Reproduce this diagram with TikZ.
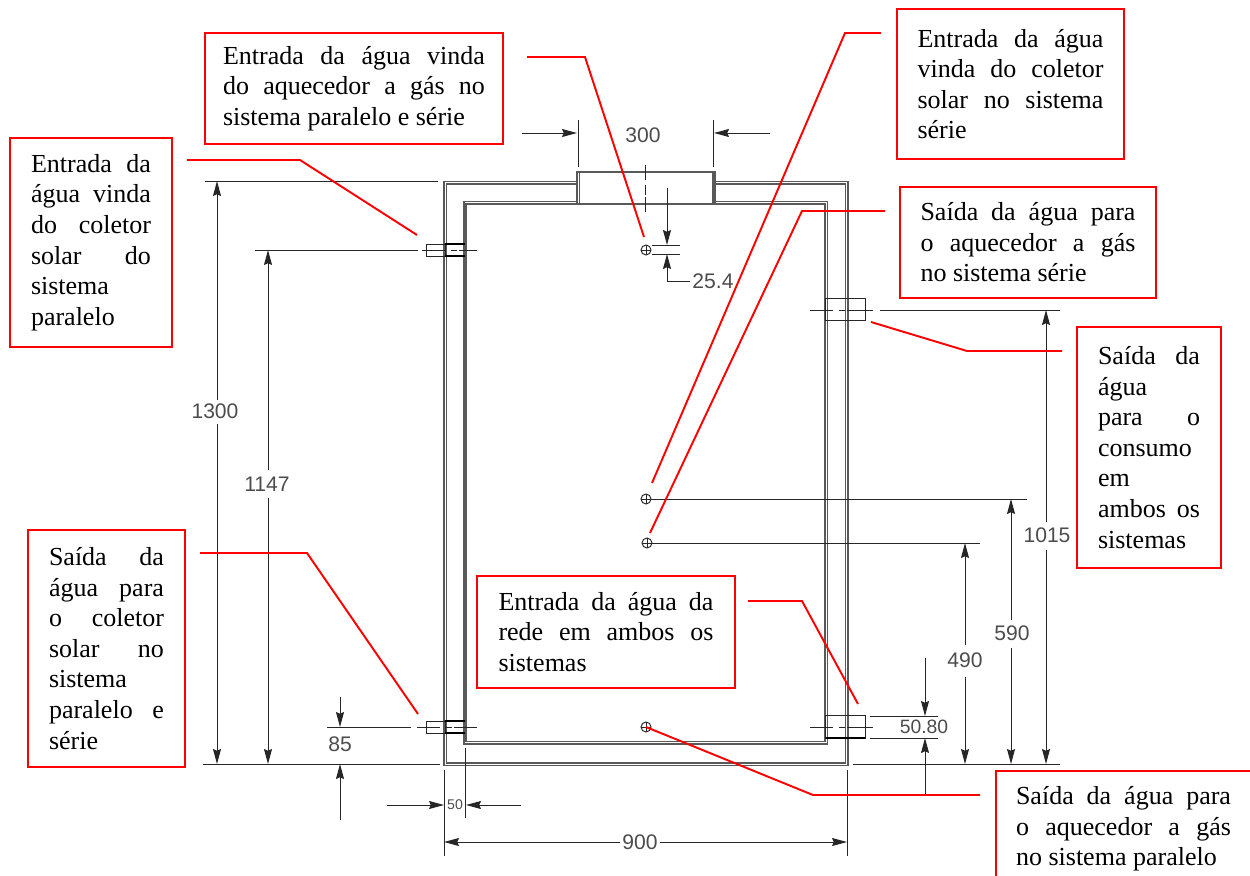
\documentclass[tikz,border=0pt]{standalone}
\usepackage{fontspec}
\setmainfont{Liberation Serif}
\setsansfont{Liberation Sans}
\usetikzlibrary{arrows.meta}
\hyphenpenalty=10000
\tolerance=9999
\hbadness=10000
\begin{document}
\begin{tikzpicture}[
      x=0.02cm, y=-0.02cm,
      parede/.style={draw=black!65, line width=0.65pt},
      fino/.style={draw=black!85, line width=0.55pt},
      grosso/.style={draw=black, line width=1.3pt},
      eixo/.style={fino, dash pattern=on 13pt off 3.4pt on 3.4pt off 1.5pt on 15pt},
      seta/.style={fino, -{Stealth[length=0.3cm,width=0.16cm,inset=1pt]}},
      linha/.style={draw=red, line width=1.1pt},
      caixa/.style n args={3}{rectangle, draw=red, line width=1.2pt, inner xsep=0pt,
        inner ysep=0pt, text width=#1cm, minimum width=#2cm, minimum height=#3cm,
        align=justify, font=\fontsize{14.8}{17.4}\selectfont},
      cota/.style={font=\fontsize{12}{14}\sffamily, text=black!70, inner sep=1pt},
      furo/.style={circle, fino, minimum size=0.2cm, inner sep=0pt,
        path picture={\draw[fino] (path picture bounding box.north) -- (path picture bounding box.south)
          (path picture bounding box.west) -- (path picture bounding box.east);}}
    ]
    \useasboundingbox (0,0) rectangle (1250,875);

    \draw[parede] (715,181.5) -- (848,181.5) -- (848,765.5) -- (444,765.5) -- (444,181.5) -- (577,181.5);
    \draw[parede] (715,184) -- (845.5,184) -- (845.5,763) -- (446.5,763) -- (446.5,184) -- (577,184);
    \draw[parede] (715,201.5) -- (827.5,201.5) -- (827.5,744) -- (464,744) -- (464,201.5) -- (577,201.5);
    \draw[parede] (715,204) -- (825,204) -- (825,741.5) -- (466,741.5) -- (466,204) -- (577,204);
    \draw[parede] (577,204) -- (577,172) -- (715,172) -- (715,204) -- cycle;
    \draw[parede] (579.5,172) -- (579.5,204) (713,172) -- (713,204);
    \draw[eixo, dash pattern=on 8.5pt off 2.8pt on 6pt off 1pt on 8.5pt] (645,165) -- (645,213);

    \draw[fino] (426,244) rectangle (445,256);
    \draw[grosso] (445,244) -- (465,244) (445,256) -- (465,256);
    \draw[fino] (426,721) rectangle (445,733);
    \draw[grosso] (445,721) -- (465,721) (445,733) -- (465,733);
    \draw[fino] (825,298) rectangle (865,320);
    \draw[fino] (825,715) rectangle (865,738);
    \draw[grosso] (826,738) -- (865,738);
    \draw[eixo] (422,250) -- (477,250);
    \draw[eixo] (417,727) -- (477,727);
    \draw[eixo] (810,310) -- (873,310);
    \draw[eixo] (810,727) -- (873,727);

    \path (646,250) node(f1) [furo] {}
    (646,499) node(f2) [furo] {}
    (647,543) node(f3) [furo] {}
    (646,727) node(f4) [furo] {};

    \draw[fino] (205,181) -- (438,181) (203,764) -- (440,764) (853,764) -- (1060,764);
    \draw[fino] (255,250) -- (418,250) (327,727) -- (411,727) (880,310) -- (1060,310);
    \draw[fino] (f2) -- (1027,499) (f3) -- (980,543);
    \draw[fino] (578,120) -- (578,167) (713,120) -- (713,167);
    \draw[fino] (652,245) -- (680,245) (652,254) -- (680,254);
    \draw[fino] (870,716) -- (938,716) (870,738) -- (938,738);
    \draw[fino] (444,770) -- (444,856) (465.5,748) -- (465.5,818) (847,770) -- (847,856);

    \path (215,411) node(t1300) [cota] {1300}
    (267,484) node(t1147) [cota] {1147}
    (340,744) node(t85) [cota] {85}
    (643,135) node(t300) [cota] {300}
    (713,281) node(t254) [cota] {25.4}
    (1047,535) node(t1015) [cota] {1015}
    (1012,633) node(t590) [cota] {590}
    (965,660) node(t490) [cota] {490}
    (924,727) node(t508) [cota, font=\fontsize{11}{13}\sffamily] {50.80}
    (455,805) node(t50) [cota, font=\fontsize{8}{10}\sffamily] {50}
    (640,842) node(t900) [cota] {900};

    \draw[seta] (217,400) -- (217,181);
    \draw[seta] (217,424) -- (217,764);
    \draw[seta] (268,470) -- (268,250);
    \draw[seta] (268,498) -- (268,764);
    \draw[seta] (340,697) -- (340,727);
    \draw[seta] (340,820) -- (340,764);
    \draw[seta] (522,133) -- (577,133);
    \draw[seta] (770,133) -- (714,133);
    \draw[seta] (667,188) -- (667,245);
    \draw[seta] (t254.west) -| (667,254);
    \draw[seta] (1046,522) -- (1046,310);
    \draw[seta] (1046,550) -- (1046,764);
    \draw[seta] (1011,620) -- (1011,499);
    \draw[seta] (1011,648) -- (1011,764);
    \draw[seta] (965,645) -- (965,543);
    \draw[seta] (965,677) -- (965,764);
    \draw[seta] (925,658) -- (925,716);
    \draw[seta] (925,795) -- (925,738);
    \draw[seta] (387,805) -- (444,805);
    \draw[seta] (521,805) -- (466,805);
    \draw[seta] (620,842) -- (444,842);
    \draw[seta] (660,842) -- (847,842);

    \path (527,57) coordinate(a1) (585,57) coordinate(a2) (644,237) coordinate(a3)
    (187,160) coordinate(b1) (300,160) coordinate(b2) (417,235) coordinate(b3)
    (200,553) coordinate(c1) (307,553) coordinate(c2) (418,714) coordinate(c3)
    (881,33) coordinate(d1) (845,33) coordinate(d2) (652,483) coordinate(d3)
    (885,211) coordinate(e1) (802,211) coordinate(e2) (650,533) coordinate(e3)
    (1062,351) coordinate(g1) (967,351) coordinate(g2) (871,322) coordinate(g3)
    (748,601) coordinate(h1) (802,601) coordinate(h2) (858,704) coordinate(h3)
    (980,795) coordinate(i1) (813,795) coordinate(i2);
    \draw[linha] (a1) -- (a2) -- (a3);
    \draw[linha] (b1) -- (b2) -- (b3);
    \draw[linha] (c1) -- (c2) -- (c3);
    \draw[linha] (d1) -- (d2) -- (d3);
    \draw[linha] (e1) -- (e2) -- (e3);
    \draw[linha] (g1) -- (g2) -- (g3);
    \draw[linha] (h1) -- (h2) -- (h3);
    \draw[linha] (i1) -- (i2) -- (f4.center);

    \path (354,88.5) node(c1a) [caixa={5.24}{5.96}{2.22}]
      {Entrada da água vinda\linebreak do aquecedor a gás no\linebreak sistema paralelo e série}
    (91,242.5) node(c2a) [caixa={2.4}{3.24}{4.18}]
      {Entrada da\linebreak água vinda\linebreak do coletor\linebreak solar do\linebreak sistema\linebreak paralelo}
    (106.5,648.5) node(c3a) [caixa={2.3}{3.14}{4.74}]
      {Saída da\linebreak água para\linebreak o coletor\linebreak solar no\linebreak sistema\linebreak paralelo e\linebreak série}
    (1010.5,84) node(c4a) [caixa={3.72}{4.54}{3.0}]
      {Entrada da água\linebreak vinda do coletor\linebreak solar no sistema\linebreak série}
    (1028,242.5) node(c5a) [caixa={4.3}{5.12}{2.22}]
      {Saída da água para\linebreak o aquecedor a gás\linebreak no sistema série}
    (1149,447.5) node(c6a) [caixa={2.04}{2.88}{4.82}]
      {Saída da\linebreak água\linebreak para o\linebreak consumo\linebreak em\linebreak ambos os\linebreak sistemas}
    (606,632) node(c7a) [caixa={4.3}{5.16}{2.24}]
      {Entrada da água da\linebreak rede em ambos os\linebreak sistemas}
    (1123.5,829) node(c8a) [caixa={4.3}{5.1}{2.32}]
      {Saída da água para\linebreak o aquecedor a gás\linebreak no sistema paralelo};
  \end{tikzpicture}
\end{document}
